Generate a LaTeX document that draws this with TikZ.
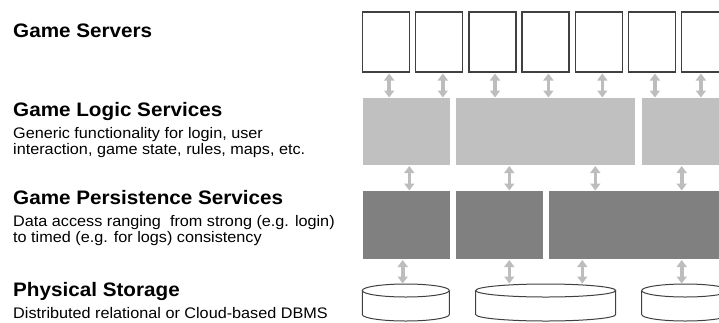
\documentclass[tikz,border=0pt]{standalone}
\usepackage{fontspec}
\setmainfont[FakeStretch=1.06]{Liberation Sans}
\usetikzlibrary{arrows.meta}
\definecolor{lightbox}{HTML}{C0C0C0}
\definecolor{darkbox}{HTML}{808080}
\definecolor{edge}{HTML}{404040}
\definecolor{arrgray}{HTML}{BDBDBD}
\begin{document}
\begin{tikzpicture}[x=1pt,y=-1pt,
  srv/.style={draw=edge,line width=1.3pt,fill=white,anchor=north west,inner sep=0pt,outer sep=0pt,minimum width=47pt,minimum height=60pt},
  logic/.style={fill=lightbox,draw=none,anchor=north west,inner sep=0pt,outer sep=0pt,minimum height=66.5pt},
  pers/.style={fill=darkbox,draw=none,anchor=north west,inner sep=0pt,outer sep=0pt,minimum height=67.5pt},
  cyl/.style={draw=edge,line width=1pt,fill=white},
  dbl/.style={draw=arrgray,line width=3.6pt,{Triangle[width=10pt,length=7pt]}-{Triangle[width=10pt,length=7pt]},shorten <=1.5pt,shorten >=0.5pt},
  head/.style={anchor=base west,inner sep=0pt,font=\fontsize{19.5}{21}\selectfont\bfseries},
  sub/.style={anchor=base west,inner sep=0pt,font=\fontsize{15.3}{16}\selectfont}]
\useasboundingbox (0,0) rectangle (719,322);
\clip (0,0) rectangle (719,322);
% texts
\node[head] (tsrv) at (13,37.5) {Game Servers};
\node[head] (tlog) at (13,116.5) {Game Logic Services};
\node[sub] (tlog1) at (13,138) {Generic functionality for login, user};
\node[sub] (tlog2) at (13,154) {interaction, game state, rules, maps, etc.};
\node[head] (tper) at (13,204) {Game Persistence Services};
\node[sub] (tper1) at (13,226) {Data access ranging\ \ from strong (e.g. login)};
\node[sub] (tper2) at (13,242.5) {to timed (e.g. for logs) consistency};
\node[head] (tphy) at (13,296) {Physical Storage};
\node[sub] (tphy1) at (13,318.5) {Distributed relational or Cloud-based DBMS};
% game servers
\node[srv] (s1) at (362.7,12) {};
\node[srv] (s2) at (415.8,12) {};
\node[srv] (s3) at (469,12) {};
\node[srv] (s4) at (522.1,12) {};
\node[srv] (s5) at (575.3,12) {};
\node[srv] (s6) at (628.4,12) {};
\node[srv] (s7) at (681.6,12) {};
% logic
\node[logic,minimum width=87.3pt] (l1) at (362.7,98) {};
\node[logic,minimum width=179.6pt] (l2) at (455.7,98) {};
\node[logic,minimum width=90pt] (l3) at (641.7,98) {};
% persistence
\node[pers,minimum width=87.3pt] (p1) at (362.7,191) {};
\node[pers,minimum width=87pt] (p2) at (455.7,191) {};
\node[pers,minimum width=180pt] (p3) at (548.7,191) {};
% storage cylinders
\draw[cyl] (362.3,290.5) -- (362.3,314.5) arc[start angle=180,end angle=0,x radius=43.5,y radius=6.5] -- (449.3,290.5);
\draw[cyl] (405.8,290.5) ellipse[x radius=43.5,y radius=6.5];
\coordinate (d1) at (405.8,284);
\draw[cyl] (475.7,290.5) -- (475.7,314.5) arc[start angle=180,end angle=0,x radius=70,y radius=6.5] -- (615.7,290.5);
\draw[cyl] (545.7,290.5) ellipse[x radius=70,y radius=6.5];
\coordinate (d2) at (545.7,284);
\draw[cyl] (641.7,290.5) -- (641.7,314.5) arc[start angle=180,end angle=0,x radius=43.5,y radius=6.5] -- (728.7,290.5);
\draw[cyl] (685.2,290.5) ellipse[x radius=43.5,y radius=6.5];
\coordinate (d3) at (685.2,284);
% arrows servers <-> logic
\foreach \s/\l/\dx in {s1/l1/3, s2/l1/3.5, s3/l2/2.5, s4/l2/2.8, s5/l2/3.5, s6/l3/3, s7/l3/-4.2}
  \draw[dbl] ([xshift=\dx pt]\s.south) -- ([xshift=\dx pt]\s.south |- \l.north);
% arrows logic <-> persistence
\draw[dbl] ([xshift=46.6pt]l1.south west) -- ([xshift=46.6pt]l1.south west |- p1.north);
\draw[dbl] ([xshift=53.6pt]l2.south west) -- ([xshift=53.6pt]l2.south west |- p2.north);
\draw[dbl] ([xshift=139.6pt]l2.south west) -- ([xshift=139.6pt]l2.south west |- p3.north);
\draw[dbl] ([xshift=40pt]l3.south west) -- ([xshift=40pt]l3.south west |- p3.north);
% arrows persistence <-> storage
\draw[dbl] ([xshift=40pt]p1.south west) -- ([xshift=40pt]p1.south west |- d1);
\draw[dbl] ([xshift=53.6pt]p2.south west) -- ([xshift=53.6pt]p2.south west |- d2);
\draw[dbl] ([xshift=33.6pt]p3.south west) -- ([xshift=33.6pt]p3.south west |- d2);
\draw[dbl] ([xshift=133pt]p3.south west) -- ([xshift=133pt]p3.south west |- d3);
\end{tikzpicture}
\end{document}
